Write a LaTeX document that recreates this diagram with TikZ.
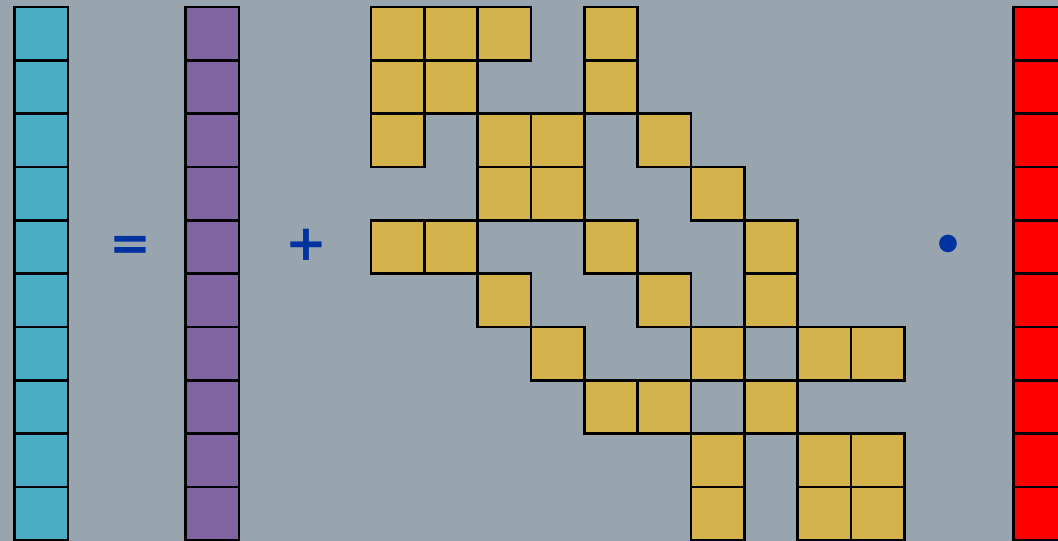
\documentclass[tikz,border=0pt]{standalone}
\usepackage{fontspec}
\newfontfamily\symfont{DejaVu Sans}
\definecolor{bg}{HTML}{98A4AE}
\definecolor{cyanc}{HTML}{4BACC6}
\definecolor{purplec}{HTML}{8064A2}
\definecolor{goldc}{HTML}{D4B24C}
\definecolor{redc}{HTML}{FF0000}
\definecolor{symc}{HTML}{0033A0}
\tikzset{
  cell/.style={draw=black, line width=2.6pt, minimum size=53.33pt, inner sep=0pt, outer sep=0pt, anchor=north west},
  sym/.style={text=symc, font=\symfont\bfseries\fontsize{50}{50}\selectfont, inner sep=0pt}
}
\begin{document}
\begin{tikzpicture}[x=1pt,y=-1pt]
\fill[bg] (0,0) rectangle (1058,541);
\useasboundingbox (0,0) rectangle (1058,541);
\foreach \r in {0,...,9}{
  \node[cell, fill=cyanc] (v\r) at (14.5, 7+53.33*\r) {};
  \node[cell, fill=purplec] (p\r) at (185.5, 7+53.33*\r) {};
  \node[cell, fill=redc] (x\r) at (1013.5, 7+53.33*\r) {};
}
\foreach \r/\cols in {0/{0,1,2,4},1/{0,1,4},2/{0,2,3,5},3/{2,3,6},4/{0,1,4,7},5/{2,5,7},6/{3,6,8,9},7/{4,5,7},8/{6,8,9},9/{6,8,9}}{
  \foreach \c in \cols {
    \node[cell, fill=goldc] (m\r-\c) at (371+53.33*\c, 7+53.33*\r) {};
  }
}
\node[sym] (eq) at (130,248) {=};
\node[sym] (plus) at (306,245) {+};
\node[sym] (dot) at (948,249) {•};
\end{tikzpicture}
\end{document}
